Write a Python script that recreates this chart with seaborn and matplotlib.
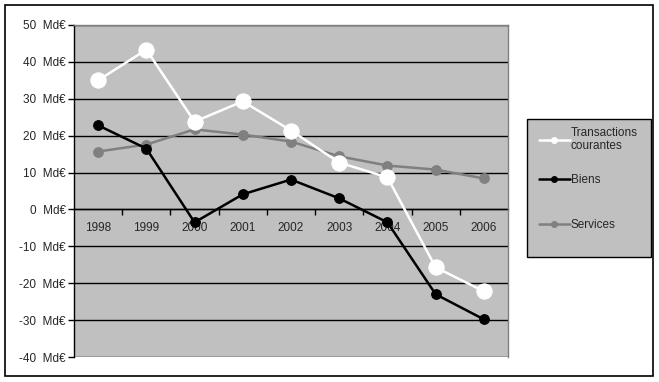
import matplotlib
matplotlib.use("Agg")
import matplotlib.pyplot as plt
import matplotlib.patches as mpatches
import seaborn as sns
import pandas as pd
import numpy as np

years = ["1998", "1999", "2000", "2001", "2002", "2003", "2004", "2005", "2006"]
transactions = [35.0, 43.3, 23.8, 29.3, 21.4, 12.7, 8.7, -15.7, -22.2]
biens = [22.8, 16.5, -3.5, 4.1, 8.1, 3.0, -3.5, -23.0, -29.8]
services = [15.7, 17.6, 21.7, 20.3, 18.4, 14.4, 11.9, 10.8, 8.4]
yticks = [50, 40, 30, 20, 10, 0, -10, -20, -30, -40]

sns.set_style("white")
plt.rcParams["font.family"] = ["Liberation Sans", "DejaVu Sans"]

fig = plt.figure(figsize=(6.59, 3.82), dpi=100)
W, H = 659, 382
ax = fig.add_axes([74 / W, 1 - 357 / H, (508 - 74) / W, (357 - 25) / H])
ax.set_facecolor("#c0c0c0")

pos = np.arange(len(years))
df = pd.DataFrame({"pos": pos, "t": transactions, "b": biens, "s": services})

for y in yticks:
    ax.axhline(y, color="black", lw=1.0, zorder=1)

sns.lineplot(data=df, x="pos", y="s", ax=ax, color="#808080", lw=1.8,
             marker="o", markersize=7, markeredgecolor="#808080", zorder=3)
sns.lineplot(data=df, x="pos", y="b", ax=ax, color="black", lw=1.8,
             marker="o", markersize=7, markeredgecolor="black", zorder=4)
sns.lineplot(data=df, x="pos", y="t", ax=ax, color="white", lw=1.8,
             marker="o", markersize=11, markeredgecolor="white", zorder=5)

ax.set_xlim(-0.5, len(years) - 0.5)
ax.set_ylim(-40, 50)
ax.set_xlabel("")
ax.set_ylabel("")

ax.set_yticks(yticks)
ax.set_yticklabels([f"{v}  Md€" for v in yticks], fontsize=8.5)
ax.tick_params(axis="y", direction="out", length=4, width=1, color="black", pad=2, left=True)

ax.spines["bottom"].set_position(("data", 0))
ax.spines["bottom"].set_color("black")
ax.spines["bottom"].set_zorder(2)
ax.spines["left"].set_color("black")
ax.spines["top"].set_color("#808080")
ax.spines["right"].set_color("#808080")
for s in ax.spines.values():
    s.set_linewidth(1.0)

ax.set_xticks(pos)
ax.set_xticklabels(years, fontsize=8.5)
ax.set_xticks(np.arange(0.5, len(years) - 0.5, 1.0), minor=True)
ax.tick_params(axis="x", which="major", length=0, pad=9, bottom=True)
ax.tick_params(axis="x", which="minor", direction="out", length=4, width=1, color="black", bottom=True)

# outer frame
fig.patches.append(mpatches.Rectangle((5 / W, 1 - 376 / H), (653 - 5) / W, (376 - 5) / H,
                                      transform=fig.transFigure, fill=False,
                                      edgecolor="black", lw=1.2))
# legend box
fig.patches.append(mpatches.Rectangle((527 / W, 1 - 257 / H), (651 - 527) / W, (257 - 119) / H,
                                      transform=fig.transFigure, facecolor="#c0c0c0",
                                      edgecolor="black", lw=1.0, zorder=0))

entries = [
    ("white", "Transactions\ncourantes", 139.5),
    ("black", "Biens", 180),
    ("#808080", "Services", 225),
]
for col, lab, ypx in entries:
    h = plt.Line2D([], [], color=col, lw=1.8, marker="o", markersize=4)
    lg = fig.legend([h], [lab], loc="center left", bbox_to_anchor=(539 / W, 1 - ypx / H),
                    frameon=False, fontsize=8.5, handlelength=2.6, handletextpad=0.1,
                    borderaxespad=0, borderpad=0)

fig.savefig("out.png", dpi=100)
